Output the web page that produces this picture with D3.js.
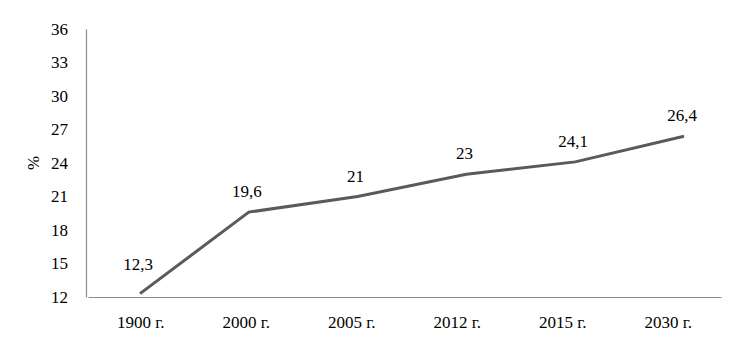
<!DOCTYPE html>
<html>
<head>
<meta charset="utf-8">
<script src="https://cdn.jsdelivr.net/npm/d3@7"></script>
</head>
<body style="margin:0; background:#fff">
<div id="plot"></div>
<script>
var width = 741;
var height = 352;

var years = ['1900 г.', '2000 г.', '2005 г.', '2012 г.', '2015 г.', '2030 г.'];
var values = [12.3, 19.6, 21, 23, 24.1, 26.4];
var labels = ['12,3', '19,6', '21', '23', '24,1', '26,4'];
var yTicks = [12, 15, 18, 21, 24, 27, 30, 33, 36];

var font = 'Liberation Serif';

var data = years.map(function(y, i) { return { year: y, v: values[i], label: labels[i] }; });

var svg = d3.select('#plot')
            .append('svg')
            .attr('width', width)
            .attr('height', height)
            .style('font-family', font);

var y_scale = d3.scaleLinear()
                .domain([12, 36])
                .range([297, 29]);

// labels in bands, line points a bit wider (as in the picture)
var x_band = d3.scaleBand()
               .domain(years)
               .range([88, 721]);

var x_point = d3.scalePoint()
                .domain(years)
                .range([140, 684]);

// y axis
var gy = svg.append('g')
            .attr('transform', 'translate(86,0)')
            .call(d3.axisLeft(y_scale).tickValues(yTicks).tickSize(0).tickPadding(18));
gy.attr('font-family', font).attr('font-size', 17);
gy.select('.domain').attr('stroke', '#8c8c8c').attr('stroke-width', 1.2);
gy.selectAll('text')
  .attr('font-family', font)
  .attr('font-size', 17)
  .attr('fill', '#000');

// x axis
var gx = svg.append('g')
            .attr('transform', 'translate(0,297)')
            .call(d3.axisBottom(x_band).tickSize(0).tickPadding(19));
gx.attr('font-family', font).attr('font-size', 17);
gx.select('.domain').attr('stroke', '#8c8c8c').attr('stroke-width', 1.2);
gx.selectAll('text')
  .attr('font-family', font)
  .attr('font-size', 17)
  .attr('fill', '#000');

// y title
svg.append('text')
   .attr('transform', 'translate(39,163) rotate(-90)')
   .attr('text-anchor', 'middle')
   .attr('font-family', font)
   .attr('font-size', 17)
   .text('%');

// line
var line = d3.line()
             .x(function(d) { return x_point(d.year); })
             .y(function(d) { return y_scale(d.v); });

svg.append('path')
   .datum(data)
   .attr('d', line)
   .attr('fill', 'none')
   .attr('stroke', '#5a5a5a')
   .attr('stroke-width', 3);

// value labels
svg.selectAll('text.val')
   .data(data)
   .enter()
   .append('text')
   .attr('class', 'val')
   .attr('x', function(d) { return x_point(d.year) - 2; })
   .attr('y', function(d) { return y_scale(d.v) - (d.v < 13 ? 24 : 15); })
   .attr('text-anchor', 'middle')
   .attr('font-family', font)
   .attr('font-size', 17)
   .text(function(d) { return d.label; });
</script>
</body>
</html>
